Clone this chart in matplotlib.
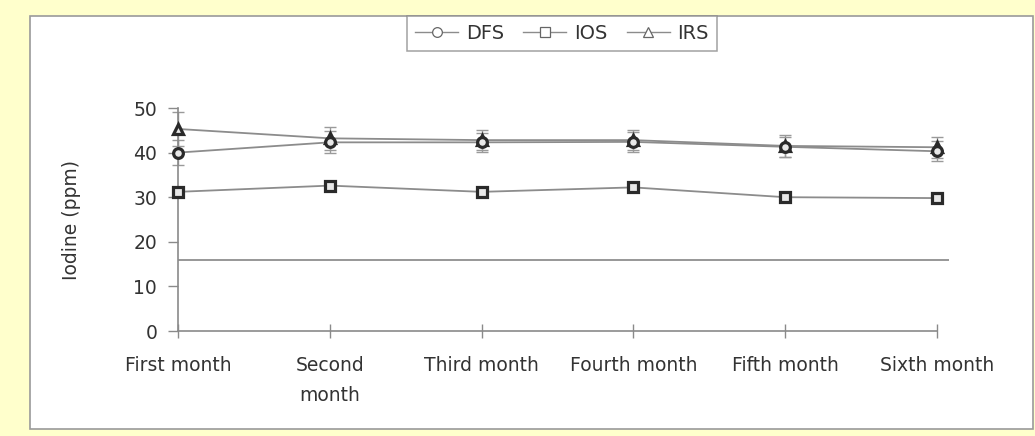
import matplotlib
matplotlib.use("Agg")
import matplotlib.pyplot as plt
from matplotlib.lines import Line2D
from matplotlib.patches import Rectangle

months = ["First month", "Second\nmonth", "Third month", "Fourth month",
          "Fifth month", "Sixth month"]
series_names = ["DFS", "IOS", "IRS"]
dfs = [40.0, 42.3, 42.3, 42.4, 41.3, 40.3]
ios = [31.2, 32.6, 31.2, 32.2, 30.0, 29.8]
irs = [45.3, 43.2, 42.8, 42.8, 41.5, 41.2]
dfs_err = [2.8, 2.5, 2.2, 2.3, 2.3, 2.2]
ios_err = [0.8, 0.8, 0.8, 0.8, 0.8, 0.8]
irs_err = [3.8, 2.6, 2.2, 2.3, 2.4, 2.3]
reference_level = 16
y_ticks = [0, 10, 20, 30, 40, 50]

W, H = 1035, 436
fig = plt.figure(figsize=(W / 100, H / 100), dpi=100)
fig.patch.set_facecolor("#FFFFCC")

# white chart panel
fig.add_artist(Rectangle((30 / W, 7 / H), (1033 - 30) / W, (420 - 7) / H,
                         transform=fig.transFigure, facecolor="white",
                         edgecolor="#9a9a9a", linewidth=1.2, zorder=0))

ax = fig.add_axes([178 / W, 105 / H, 771 / W, 223 / H])
ax.set_facecolor("none")

x = list(range(len(months)))
line_col = "#8c8c8c"
edge_col = "#2a2a2a"

ax.axhline(reference_level, xmin=0, xmax=1, color="#7a7a7a", lw=1.1, zorder=1)

# IRS first so the DFS circles sit on top where the two series overlap
styles = [(irs, irs_err, "^", 3), (ios, ios_err, "s", 4), (dfs, dfs_err, "o", 5)]
for vals, errs, m, z in styles:
    ax.errorbar(x, vals, yerr=errs, fmt="none", ecolor="#9a9a9a", elinewidth=1,
                capsize=4, capthick=1, zorder=2, clip_on=False)
    ax.plot(x, vals, color=line_col, lw=1.3, zorder=2.5, clip_on=False)
    ax.plot(x, vals, linestyle="none", marker=m, markersize=7,
            markerfacecolor="#e8e8e8", markeredgecolor=edge_col,
            markeredgewidth=2.3, zorder=z, clip_on=False)

ax.set_xlim(0, 5.08)
ax.set_ylim(0, 50)
ax.set_yticks(y_ticks)
ax.set_xticks(x)
ax.set_xticklabels(months, linespacing=1.75)

for s in ["top", "right"]:
    ax.spines[s].set_visible(False)
for s in ["left", "bottom"]:
    ax.spines[s].set_color("#8a8a8a")
    ax.spines[s].set_linewidth(1.2)
ax.spines["bottom"].set_bounds(0, 5)

ax.tick_params(axis="y", direction="out", length=7, width=1, color="#8a8a8a",
               labelsize=13.5, labelcolor="#333333", pad=8)
ax.tick_params(axis="x", direction="inout", length=10, width=1, color="#8a8a8a",
               labelsize=13.5, labelcolor="#333333", pad=13)
ax.set_ylabel("Iodine (ppm)", fontsize=13.5, color="#333333", labelpad=38)

handles = [Line2D([], [], color=line_col, lw=1, marker=m, markersize=7,
                  markerfacecolor="white", markeredgecolor="#666666",
                  markeredgewidth=0.9)
           for m in ["o", "s", "^"]]
leg = fig.legend(handles, series_names, loc="upper center",
                 bbox_to_anchor=(562 / W, 1 - 16 / H), borderaxespad=0,
                 ncol=3, frameon=True,
                 fancybox=False, edgecolor="#8a8a8a", fontsize=14,
                 handlelength=2.2, handletextpad=0.4, columnspacing=1.0,
                 borderpad=0.4, labelcolor="#333333")
leg.get_frame().set_linewidth(1.1)

fig.savefig("out.png", dpi=100, facecolor=fig.get_facecolor())
